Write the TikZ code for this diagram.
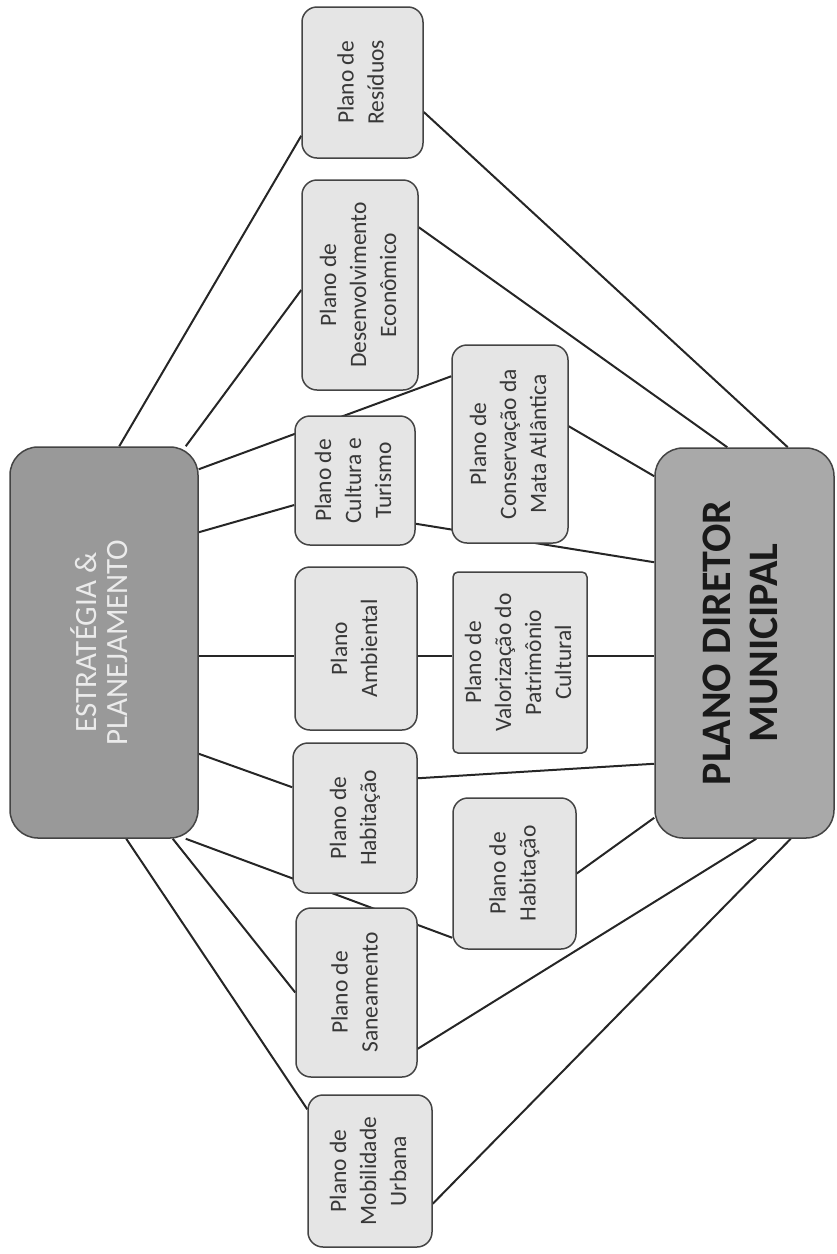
\documentclass[tikz,border=0pt]{standalone}
\usepackage{fontspec}
\setmainfont{Carlito}
\usetikzlibrary{backgrounds}
\definecolor{caixa}{HTML}{E5E5E5}
\definecolor{escuro}{HTML}{999999}
\definecolor{diretor}{HTML}{A9A9A9}
\definecolor{borda}{HTML}{444444}
\definecolor{textoplano}{HTML}{383838}
\newcommand{\vt}[1]{\rotatebox{90}{\begin{tabular}{@{}c@{}}#1\end{tabular}}}
\begin{document}
\begin{tikzpicture}[x=1pt, y=-1pt,
    plano/.style={draw=borda, line width=1.5pt, fill=caixa, rounded corners=15pt,
      inner sep=0pt, text=textoplano, font=\fontsize{23.5}{30}\selectfont},
    grande/.style={draw=borda, line width=1.5pt, rounded corners=28pt, inner sep=0pt},
    liga/.style={line width=2pt, black!85}]
  \useasboundingbox (0,0) rectangle (837,1254);
  \node[grande, fill=escuro, text=white!92!black, minimum width=188pt, minimum height=391pt,
    font=\fontsize{31}{31}\selectfont] (est) at (104,642.5) {\vt{ESTRATÉGIA \&\\PLANEJAMENTO}};
  \node[grande, fill=diretor, text=black!90, minimum width=179pt, minimum height=390pt,
    font=\bfseries\fontsize{42}{47}\selectfont] (pdm) at (744.5,643) {\vt{PLANO DIRETOR\\MUNICIPAL}};
  \node[plano, minimum width=121pt, minimum height=151pt] (res) at (362.5,82.5) {\vt{Plano de\\Resíduos}};
  \node[plano, minimum width=116pt, minimum height=210pt] (des) at (360,285) {\vt{Plano de\\Desenvolvimento\\Econômico}};
  \node[plano, minimum width=120pt, minimum height=129pt] (cul) at (355,480.5) {\vt{Plano de\\Cultura e\\Turismo}};
  \node[plano, minimum width=116pt, minimum height=198pt] (con) at (510,444) {\vt{Plano de\\Conservação da\\Mata Atlântica}};
  \node[plano, minimum width=122pt, minimum height=163pt] (amb) at (356,648.5) {\vt{Plano\\Ambiental}};
  \node[plano, rounded corners=5pt, minimum width=134pt, minimum height=181pt] (val) at (520,662.5) {\vt{Plano de\\Valorização do\\Patrimônio\\Cultural}};
  \node[plano, minimum width=124pt, minimum height=150pt] (hab) at (355,818) {\vt{Plano de\\Habitação}};
  \node[plano, minimum width=123pt, minimum height=151pt] (habb) at (514.5,873.5) {\vt{Plano de\\Habitação}};
  \node[plano, minimum width=121pt, minimum height=169pt] (san) at (356.5,992.5) {\vt{Plano de\\Saneamento}};
  \node[plano, minimum width=124pt, minimum height=152pt] (mob) at (370,1171) {\vt{Plano de\\Mobilidade\\Urbana}};
  \begin{pgfonlayer}{background}
    \draw[liga] ([xshift=110pt]est.north west) -- ([yshift=23pt]res.south west);
    \draw[liga] ([xshift=-13pt]est.north east) -- ([yshift=-5pt]des.west);
    \draw[liga] ([yshift=-23pt]est.north east) -- ([yshift=-32pt]con.north west);
    \draw[liga] ([yshift=-86pt]est.north east) -- ([yshift=-24.5pt]cul.west);
    \draw[liga] ([yshift=-13.5pt]est.east) -- ([yshift=-7.5pt]amb.west);
    \draw[liga] ([yshift=85pt]est.south east) -- ([yshift=-45pt]hab.north west);
    \draw[liga] ([xshift=-13pt]est.south east) -- ([yshift=12pt]habb.south west);
    \draw[liga] ([xshift=-26pt]est.south east) -- (san.west);
    \draw[liga] ([xshift=117pt]est.south west) -- ([yshift=-15pt]mob.north west);
    \draw[liga] ([yshift=-29.5pt]res.east) -- ([xshift=-47pt]pdm.north east);
    \draw[liga] ([yshift=-48pt]des.north east) -- ([xshift=73pt]pdm.north west);
    \draw[liga] ([yshift=-82pt]con.north east) -- ([yshift=-29pt]pdm.north west);
    \draw[liga] ([yshift=22pt]cul.south east) -- ([yshift=-115pt]pdm.north west);
    \draw[liga] ([yshift=-7.5pt]amb.east) -- ([yshift=6.5pt]val.west);
    \draw[liga] ([yshift=6.5pt]val.east) -- ([yshift=-13pt]pdm.west);
    \draw[liga] ([yshift=-36pt]hab.north east) -- ([yshift=75pt]pdm.south west);
    \draw[liga] (habb.east) -- ([yshift=21pt]pdm.south west);
    \draw[liga] ([yshift=29pt]san.south east) -- ([xshift=102pt]pdm.south west);
    \draw[liga] ([yshift=44pt]mob.south east) -- ([xshift=-44pt]pdm.south east);
  \end{pgfonlayer}
\end{tikzpicture}
\end{document}
